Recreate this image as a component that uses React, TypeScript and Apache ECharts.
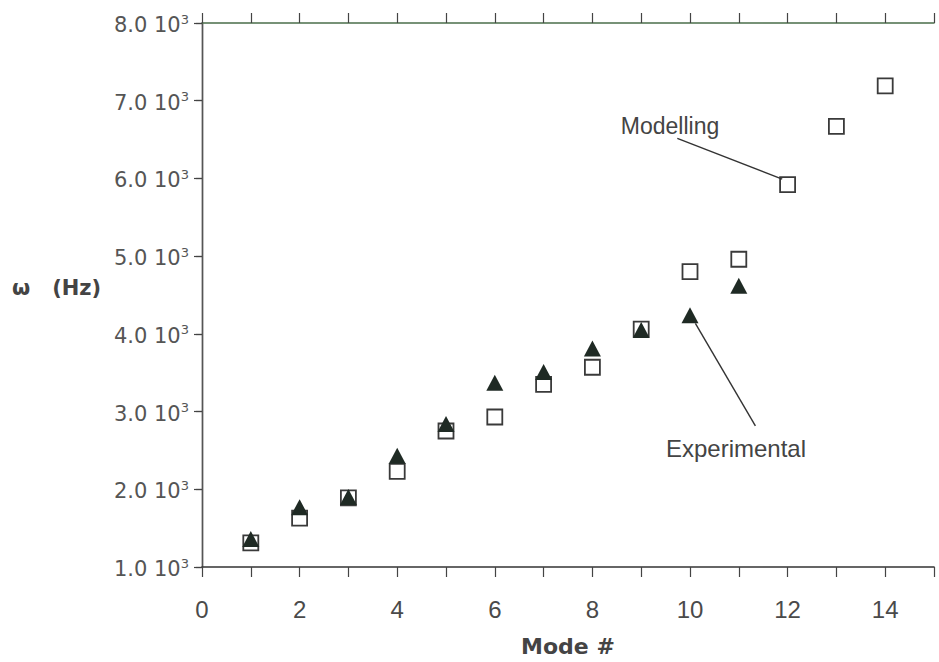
import React, { useEffect, useRef } from "react";
import * as echarts from "echarts";

const modes: number[] = [1, 2, 3, 4, 5, 6, 7, 8, 9, 10, 11, 12, 13, 14];
const modelling: number[] = [1310, 1630, 1890, 2230, 2750, 2930, 3350, 3570, 4060, 4800, 4960, 5920, 6670, 7190];
const experimentalModes: number[] = [1, 2, 3, 4, 5, 6, 7, 8, 9, 10, 11];
const experimental: number[] = [1360, 1770, 1900, 2430, 2840, 3370, 3510, 3810, 4050, 4240, 4620];
const xTicks: number[] = [0, 2, 4, 6, 8, 10, 12, 14];
const yTicks: number[] = [1000, 2000, 3000, 4000, 5000, 6000, 7000, 8000];

const SANS = "'Liberation Sans', Arial, Helvetica, sans-serif";
const WIDE = "'DejaVu Sans', sans-serif";
const BOLD = "'DejaVu Sans', sans-serif";

export default function App() {
  const ref = useRef<HTMLDivElement>(null);
  useEffect(() => {
    if (!ref.current) return;
    const chart = echarts.init(ref.current, undefined, { renderer: "svg" });
    const modData = modes.map((m, i) => [m, modelling[i]]);
    const expData = experimentalModes.map((m, i) => [m, experimental[i]]);
    chart.setOption({
      animation: false,
      backgroundColor: "#ffffff",
      grid: { left: 202, right: 5, top: 23, bottom: 92 },
      xAxis: [
        {
          type: "value",
          min: 0,
          max: 15,
          interval: 1,
          position: "bottom",
          axisLine: { show: true, lineStyle: { color: "#333", width: 1.6 } },
          axisTick: { show: true, inside: false, length: 10, lineStyle: { color: "#444", width: 1.2 } },
          splitLine: { show: false },
          axisLabel: {
            margin: 30,
            fontSize: 24,
            color: "#4a4a4a",
            fontFamily: SANS,
            formatter: (v: number) => (xTicks.indexOf(v) >= 0 ? String(v) : ""),
          },
          name: "Mode #",
          nameLocation: "middle",
          nameGap: 68,
          nameTextStyle: { fontSize: 22, fontWeight: "bold", color: "#444", fontFamily: BOLD },
        },
        {
          type: "value",
          min: 0,
          max: 15,
          interval: 1,
          position: "top",
          axisLine: { show: true, lineStyle: { color: "#4a6e4a", width: 1.6 } },
          axisTick: { show: true, inside: false, length: 10, lineStyle: { color: "#444", width: 1.2 } },
          axisLabel: { show: false },
          splitLine: { show: false },
        },
      ],
      yAxis: [
        {
          type: "value",
          min: 1000,
          max: 8000,
          interval: 1000,
          position: "left",
          axisLine: { show: true, lineStyle: { color: "#555", width: 1.4 } },
          axisTick: { show: true, inside: false, length: 8, lineStyle: { color: "#444", width: 1.2 } },
          splitLine: { show: false },
          axisLabel: {
            margin: 13,
            formatter: (v: number) =>
              yTicks.indexOf(v) >= 0 ? `{a|${(v / 1000).toFixed(1)} 10}{s|3}` : "",
            rich: {
              a: { fontSize: 21, color: "#555", fontFamily: WIDE, padding: [4, 0, 0, 0] },
              s: { fontSize: 13, color: "#555", fontFamily: WIDE, padding: [0, 0, 8, 0] },
            },
          },
        },
        {
          type: "value",
          min: 1000,
          max: 8000,
          interval: 1000,
          position: "right",
          axisLine: { show: true, lineStyle: { color: "#555", width: 1.4 } },
          axisTick: { show: true, inside: true, length: 6, lineStyle: { color: "#444", width: 1.2 } },
          axisLabel: { show: false },
          splitLine: { show: false },
        },
      ],
      series: [
        {
          name: "Modelling",
          type: "scatter",
          xAxisIndex: 0,
          yAxisIndex: 0,
          data: modData,
          symbol: "rect",
          symbolSize: 15,
          z: 2,
          itemStyle: { color: "#ffffff", borderColor: "#3a3a3a", borderWidth: 1.8, opacity: 1 },
          markLine: {
            silent: true,
            symbol: ["none", "none"],
            label: { show: false },
            lineStyle: { color: "#333", width: 1.4, type: "solid", opacity: 1 },
            data: [
              [{ coord: [9.74, 6516] }, { coord: [11.89, 5991] }],
              [{ coord: [10.11, 4135] }, { coord: [11.34, 2817] }],
            ],
          },
        },
        {
          name: "Experimental",
          type: "scatter",
          xAxisIndex: 0,
          yAxisIndex: 0,
          data: expData,
          symbol: "triangle",
          symbolSize: [17, 16],
          z: 3,
          itemStyle: { color: "#1f2a24", opacity: 1 },
        },
      ],
      graphic: [
        {
          type: "text",
          left: 12,
          top: 277,
          style: { text: "ω   (Hz)", font: `bold 21px ${BOLD}`, fill: "#444" },
        },
        {
          type: "text",
          x: 670,
          y: 126,
          style: {
            text: "Modelling",
            font: `23px ${SANS}`,
            fill: "#444",
            align: "center",
            verticalAlign: "middle",
          },
        },
        {
          type: "text",
          x: 736,
          y: 448,
          style: {
            text: "Experimental",
            font: `24px ${SANS}`,
            fill: "#444",
            align: "center",
            verticalAlign: "middle",
          },
        },
      ],
    });
    return () => chart.dispose();
  }, []);
  return (
    <div
      ref={ref}
      style={{ position: "absolute", left: 0, top: 0, width: 939, height: 662, background: "#fff" }}
    />
  );
}
